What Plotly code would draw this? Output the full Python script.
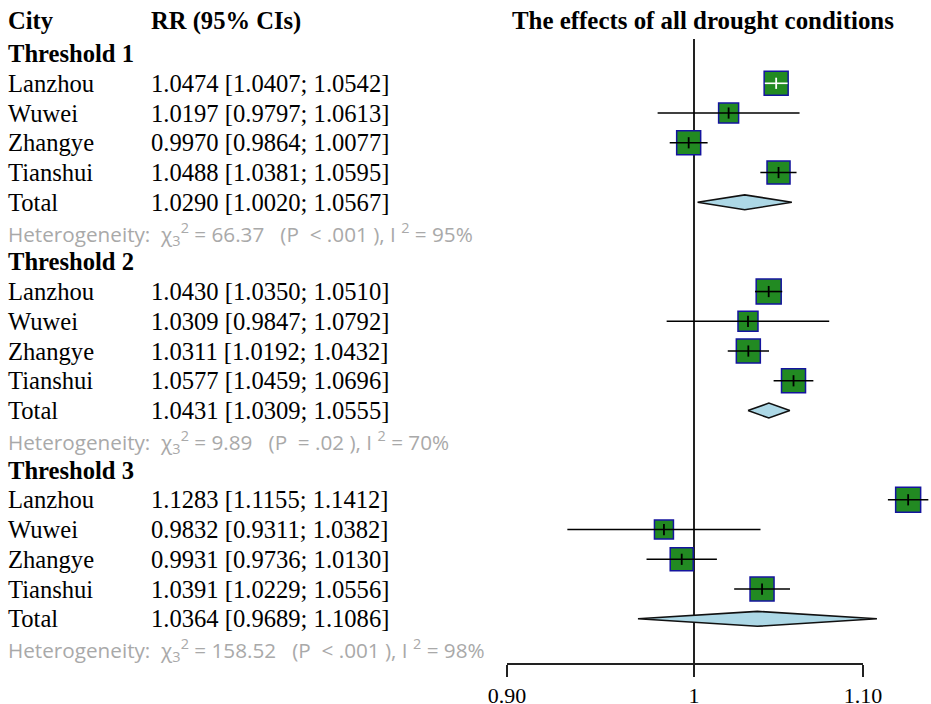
import math
import plotly.graph_objects as go

# ---------------- data ----------------
cities = ["Lanzhou", "Wuwei", "Zhangye", "Tianshui"]
thresholds = ["Threshold 1", "Threshold 2", "Threshold 3"]
rr = [[1.0474, 1.0197, 0.9970, 1.0488],
      [1.0430, 1.0309, 1.0311, 1.0577],
      [1.1283, 0.9832, 0.9931, 1.0391]]
rr_lo = [[1.0407, 0.9797, 0.9864, 1.0381],
         [1.0350, 0.9847, 1.0192, 1.0459],
         [1.1155, 0.9311, 0.9736, 1.0229]]
rr_hi = [[1.0542, 1.0613, 1.0077, 1.0595],
         [1.0510, 1.0792, 1.0432, 1.0696],
         [1.1412, 1.0382, 1.0130, 1.0556]]
total_rr = [1.0290, 1.0431, 1.0364]
total_lo = [1.0020, 1.0309, 0.9689]
total_hi = [1.0567, 1.0555, 1.1086]
chi2 = ["66.37", "9.89", "158.52"]
p_text = ["&lt; .001", "= .02", "&lt; .001"]
i2 = [95, 70, 98]
tick_vals = [0.90, 1, 1.10]
tick_text = ["0.90", "1", "1.10"]

# ---------------- style ----------------
W, H = 931, 704
box_px = [[24, 20, 24, 23], [25, 20, 24, 24], [25, 19, 23, 24]]
SERIF = "Liberation Serif"
SANS = "Open Sans"
GREEN = "#228a22"
BLUE = "#14149e"
GRAY = "#a9a9a9"
FS = 24.6

# plot area geometry (pixels)
x_left_px = 480
x_ref_px = 694            # where RR = 1 sits
px_per_dec = 4085.0
top_px, bot_px = 39, 663
row0_px, row_step = 83.3, 29.75

xr0 = (x_left_px - x_ref_px) / px_per_dec
xr1 = (W - x_ref_px) / px_per_dec
y_top = (top_px - row0_px) / row_step
y_bot = (bot_px - row0_px) / row_step


def xpaper(px):
    return px / W


dom_main = [x_left_px / W, 1.0]


def dom_of(val):
    f = (math.log10(val) - xr0) / (xr1 - xr0)
    return dom_main[0] + f * (dom_main[1] - dom_main[0])


fig = go.Figure()

# squares
sq_x, sq_y, sq_s = [], [], []
for g in range(3):
    for i in range(4):
        sq_x.append(rr[g][i]); sq_y.append(7 * g + i); sq_s.append(box_px[g][i])
fig.add_trace(go.Scatter(x=sq_x, y=sq_y, mode="markers", hoverinfo="skip",
                         marker=dict(symbol="square", size=sq_s, color=GREEN,
                                     opacity=1,
                                     line=dict(color=BLUE, width=1.5))))

# CI lines (white if the interval lies inside the square)
for colr in ["black", "white"]:
    lx, ly, tx, ty = [], [], [], []
    for g in range(3):
        for i in range(4):
            half = box_px[g][i] / 2
            lo_px = (math.log10(rr[g][i]) - math.log10(rr_lo[g][i])) * px_per_dec
            hi_px = (math.log10(rr_hi[g][i]) - math.log10(rr[g][i])) * px_per_dec
            inside = lo_px <= half and hi_px <= half
            if (colr == "white") != inside:
                continue
            r = 7 * g + i
            lx += [rr_lo[g][i], rr_hi[g][i], None]
            ly += [r, r, None]
            tx.append(rr[g][i]); ty.append(r)
    if lx:
        fig.add_trace(go.Scatter(x=lx, y=ly, mode="lines", hoverinfo="skip",
                                 line=dict(color=colr, width=1.6)))
        fig.add_trace(go.Scatter(x=tx, y=ty, mode="markers", hoverinfo="skip",
                                 marker=dict(symbol="line-ns", size=8, opacity=1,
                                             line=dict(color=colr, width=1.8))))

# diamonds
for g in range(3):
    r = 7 * g + 4
    h = 0.25
    fig.add_trace(go.Scatter(
        x=[total_lo[g], total_rr[g], total_hi[g], total_rr[g], total_lo[g]],
        y=[r, r - h, r, r + h, r], mode="lines", fill="toself",
        fillcolor="#add8e6", line=dict(color="#111111", width=1.6),
        hoverinfo="skip"))

# invisible trace on the tick axis
fig.add_trace(go.Scatter(x=[1], y=[0], xaxis="x2", mode="markers",
                         marker=dict(opacity=0), hoverinfo="skip"))

# reference line at 1
fig.add_shape(type="line", xref="x", yref="y", x0=1, x1=1, y0=y_top, y1=y_bot,
              line=dict(color="#222222", width=2), layer="below")

ann = []


def txt(x_px, row, text, size=FS, color="black", family=SERIF, anchor="left",
        yref="y"):
    ann.append(dict(x=xpaper(x_px), xref="paper", y=row, yref=yref, text=text,
                    showarrow=False, xanchor=anchor, yanchor="middle",
                    font=dict(family=family, size=size, color=color)))


head_y = 1 - 21 / H
txt(6, head_y, "<b>City</b>", yref="paper")
txt(149, head_y, "<b>RR (95% CIs)</b>", yref="paper")
txt(702.5, head_y, "<b>The effects of all drought conditions</b>",
    anchor="center", yref="paper", size=24.9)

nb = "\u00a0"
for g in range(3):
    txt(6, 7 * g - 1, "<b>%s</b>" % thresholds[g])
    for i in range(4):
        r = 7 * g + i
        txt(6, r, cities[i])
        txt(149, r, "%.4f [%.4f; %.4f]" % (rr[g][i], rr_lo[g][i], rr_hi[g][i]))
    txt(6, 7 * g + 4, "Total")
    txt(149, 7 * g + 4, "%.4f [%.4f; %.4f]" % (total_rr[g], total_lo[g], total_hi[g]))
    het = ("Heterogeneity:" + nb * 2 + "χ<sub>3</sub><sup>2</sup> = " + chi2[g] +
           nb * 3 + "(P" + nb * 2 + p_text[g] + " ), I" + nb + "<sup>2</sup> = %d%%" % i2[g])
    txt(6, 7 * g + 5.05, het, size=20.7, color=GRAY, family=SANS)

fig.update_layout(
    template="none",
    width=W, height=H, autosize=False,
    margin=dict(l=0, r=0, t=0, b=0, pad=0, autoexpand=False),
    paper_bgcolor="white", plot_bgcolor="rgba(0,0,0,0)", showlegend=False,
    annotations=ann,
    xaxis=dict(type="log", domain=dom_main, range=[xr0, xr1], visible=False,
               fixedrange=True, automargin=False),
    xaxis2=dict(type="log", domain=[dom_of(tick_vals[0]), dom_of(tick_vals[-1])],
                range=[math.log10(tick_vals[0]), math.log10(tick_vals[-1])],
                anchor="y", showline=True, linewidth=2, linecolor="#222222",
                ticks="outside", ticklen=12, tickwidth=2, tickcolor="#222222",
                tickvals=tick_vals, ticktext=tick_text, showgrid=False,
                zeroline=False, automargin=False, fixedrange=True,
                tickfont=dict(family=SERIF, size=22, color="black")),
    yaxis=dict(domain=[1 - bot_px / H, 1 - top_px / H], range=[y_bot, y_top],
               visible=False, fixedrange=True, automargin=False),
)

fig.write_html("out.html")
